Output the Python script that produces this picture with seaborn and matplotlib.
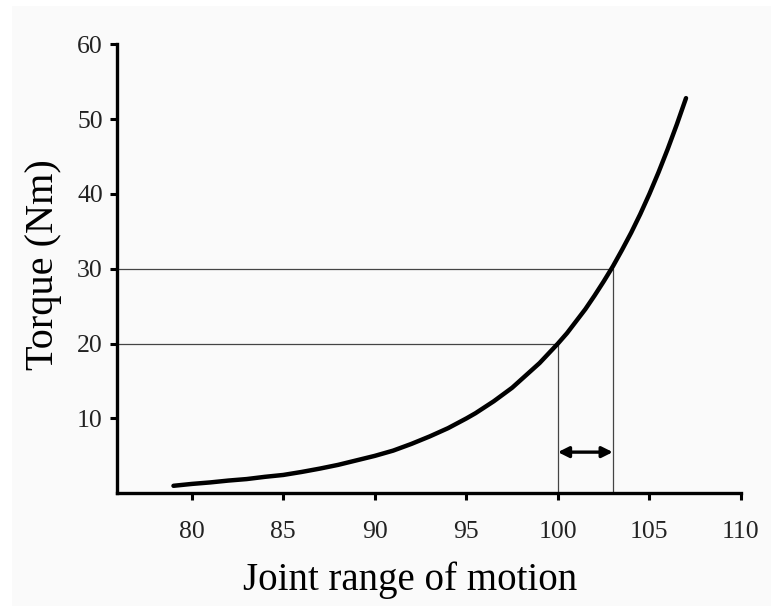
import numpy as np
import pandas as pd
import seaborn as sns
import matplotlib.pyplot as plt
from matplotlib.patches import Rectangle

# torque curve (joint angle in degrees, torque in Nm)
joint_angle = [79, 80, 81, 82, 83, 84, 85, 86, 87, 88, 89, 90, 91, 92, 93,
               94, 95, 95.5, 96, 96.5, 97, 97.5, 98, 98.5, 99, 99.5, 100,
               100.5, 101, 101.5, 102, 102.5, 103, 103.5, 104, 104.5, 105,
               105.5, 106, 106.5, 107]
torque = [1.0, 1.25, 1.45, 1.7, 1.9, 2.2, 2.45, 2.85, 3.3, 3.8, 4.4, 5.0,
          5.7, 6.6, 7.6, 8.7, 10.0, 10.7, 11.5, 12.3, 13.2, 14.1, 15.2,
          16.3, 17.4, 18.7, 20.0, 21.4, 23.0, 24.6, 26.4, 28.3, 30.3, 32.5,
          34.8, 37.3, 40.0, 42.9, 46.0, 49.3, 52.8]

# the two torque levels and their matching angles
ref_torque = [20, 30]
ref_angle = [100, 103]
arrow_y = 5.5

x_ticks = [80, 85, 90, 95, 100, 105, 110]
y_ticks = [10, 20, 30, 40, 50, 60]

df = pd.DataFrame({'angle': joint_angle, 'torque': torque})

sns.set_style('ticks')
plt.rcParams['font.family'] = ['Liberation Serif', 'DejaVu Serif']

bg = '#fafafa'
fig = plt.figure(figsize=(7.71, 6.06), dpi=100, facecolor='white')
fig.patches.append(Rectangle((12 / 771, 0), 1, 1 - 6 / 606, transform=fig.transFigure,
                             facecolor=bg, edgecolor='none', zorder=-10))
ax = fig.add_axes([0.1514, 0.186, 0.8096, 0.741])
ax.set_facecolor(bg)

xmin = 75.9
# guide lines from the axes to the curve
for t, a in zip(ref_torque, ref_angle):
    ax.plot([xmin, a], [t, t], color='#444444', lw=0.9, zorder=1)
    ax.plot([a, a], [0, t], color='#444444', lw=0.9, zorder=1)

sns.lineplot(data=df, x='angle', y='torque', color='black', lw=3.2, ax=ax, zorder=3,
             solid_joinstyle='round', solid_capstyle='round')

ax.annotate('', xy=(ref_angle[0], arrow_y), xytext=(ref_angle[1], arrow_y),
            arrowprops=dict(arrowstyle='<|-|>', color='black', lw=2.4,
                            mutation_scale=16, shrinkA=0, shrinkB=0))

ax.set_xlim(xmin, 110)
ax.set_ylim(0, 60)
ax.set_xticks(x_ticks)
ax.set_yticks(y_ticks)
ax.set_xticklabels([str(v) for v in x_ticks])
ax.set_yticklabels([str(v) for v in y_ticks])

for side in ['top', 'right']:
    ax.spines[side].set_visible(False)
for side in ['left', 'bottom']:
    ax.spines[side].set_linewidth(2.4)
    ax.spines[side].set_color('black')

ax.tick_params(axis='both', direction='out', length=5, width=2.2, colors='black',
               labelcolor='#222222', labelsize=18.5)
ax.tick_params(axis='x', pad=15)
ax.tick_params(axis='y', pad=5)

ax.set_xlabel('Joint range of motion', fontsize=28, labelpad=13, color='black')
ax.xaxis.label.set_x(0.47)
ax.set_ylabel('Torque (Nm)', fontsize=29, color='black')
ax.yaxis.set_label_coords(-0.0876, 0.51)

fig.savefig('out.png', dpi=100, facecolor=fig.get_facecolor())
